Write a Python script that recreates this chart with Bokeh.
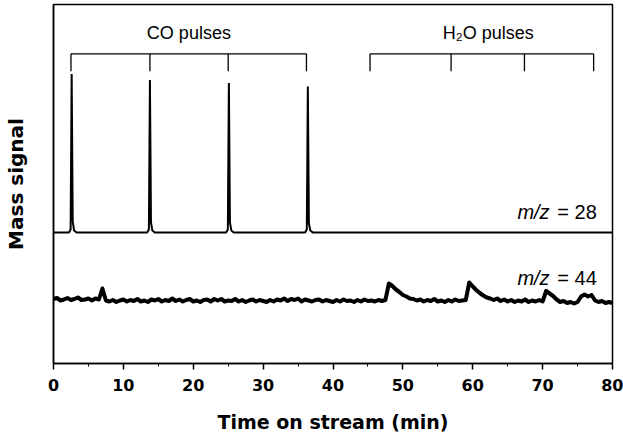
import numpy as np
from bokeh.plotting import figure
from bokeh.models import Range1d, Label, ColumnDataSource, FixedTicker
from bokeh.embed import file_html
from bokeh.resources import INLINE

# ---------------- data ----------------
x_ticks = [0, 10, 20, 30, 40, 50, 60, 70, 80]
x_minor_ticks = [5, 15, 25, 35, 45, 55, 65, 75]

# m/z = 28 trace (time in min, signal in arbitrary units)
mz28_time = [0, 2.2, 2.45, 2.6, 2.75, 2.95, 3.3,
             13.4, 13.65, 13.8, 13.95, 14.15, 14.5,
             24.7, 24.95, 25.1, 25.25, 25.45, 25.8,
             36.0, 36.25, 36.4, 36.55, 36.75, 37.1, 80]
mz28_signal = [131, 131, 134, 289.5, 142, 133, 131,
               131, 134, 283.5, 141, 133, 131,
               131, 134, 280.5, 141, 133, 131,
               131, 134, 277, 140, 133, 131, 131]

# m/z = 44 trace, sampled every 0.5 min from 0 to 80
mz44_time = np.arange(0, 80.5, 0.5)
mz44_signal = [
    64.5, 65.5, 63, 64, 65.5, 63.5, 64.5, 66, 63.5, 64, 65, 63, 65, 64,
    75,
    63, 62, 63.5, 61.5, 63, 64, 62, 63.5, 62.5, 64.5, 62, 63, 61.5, 64, 63, 64.5,
    62, 63.5, 62.5, 65, 62.5, 64, 62, 63.5, 64.5, 62, 63, 61.5, 63.5, 64, 62, 64.5,
    63, 64.5, 62, 63, 62.5, 64.5, 62, 63.5, 61.5, 63, 64, 62, 63.5, 62.5, 61.5, 63.5,
    62, 64, 63, 65, 62.5, 64.5, 63.5, 65, 62, 64, 63, 62, 63.5, 64, 62, 63.5,
    62.5, 61.5, 63.5, 62, 64, 62.5, 63, 61.5, 63.5, 62, 64, 62.5, 63, 62, 63.5, 62.5,
    63.5,
    80, 77.5, 74, 71.5, 68.5, 67, 65, 64.5, 63, 64, 62, 63.5, 62.5, 64.5, 62, 63,
    61.5, 63.5, 62, 64, 62.5, 63,
    63.5, 81,
    77, 73.5, 70.5, 68, 66, 65, 63.5, 65, 62.5, 64, 62, 63.5, 61.5, 63, 62, 64,
    61.5, 63, 62, 63.5, 62,
    72.5, 70, 67.5, 64, 61.5, 62.5, 60.5, 61.5, 60, 61.5,
    67, 69, 67, 68.5, 63, 61.5, 62.5, 60.5, 61.5, 60.5,
]

co_pulse_times = [2.5, 13.8, 25.0, 36.2]
h2o_pulse_times = [45.3, 56.9, 67.4, 77.3]

# ---------------- figure ----------------
p = figure(width=623, height=439, output_backend="svg", toolbar_location=None,
           x_range=Range1d(0, 80), y_range=Range1d(0, 359),
           min_border_left=52, min_border_right=11, min_border_top=4,
           min_border_bottom=76)
p.title.visible = False
p.xgrid.visible = False
p.ygrid.visible = False
p.background_fill_color = "white"
p.border_fill_color = "white"
p.outline_line_color = "black"
p.outline_line_width = 1.5

# x axis
p.xaxis.ticker = FixedTicker(ticks=x_ticks, minor_ticks=x_minor_ticks)
p.xaxis.axis_line_width = 1.5
p.xaxis.major_tick_in = 0
p.xaxis.major_tick_out = 6
p.xaxis.minor_tick_in = 0
p.xaxis.minor_tick_out = 3
p.xaxis.major_tick_line_width = 1.5
p.xaxis.major_label_standoff = 9
p.xaxis.major_label_text_font = "DejaVu Sans"
p.xaxis.major_label_text_font_style = "bold"
p.xaxis.major_label_text_font_size = "16px"
p.xaxis.major_label_text_color = "black"
p.xaxis.axis_label = "Time on stream (min)"
p.xaxis.axis_label_text_font = "DejaVu Sans"
p.xaxis.axis_label_text_font_style = "bold"
p.xaxis.axis_label_text_font_size = "19px"
p.xaxis.axis_label_text_color = "black"
p.xaxis.axis_label_standoff = 17

# y axis (no ticks)
p.yaxis.ticker = FixedTicker(ticks=[])
p.yaxis.axis_line_width = 1.5
p.yaxis.major_tick_line_color = None
p.yaxis.minor_tick_line_color = None
p.yaxis.major_label_text_font_size = "0px"
p.yaxis.major_label_standoff = 0
p.yaxis.axis_label = "Mass signal"
p.yaxis.axis_label_text_font = "DejaVu Sans"
p.yaxis.axis_label_text_font_style = "bold"
p.yaxis.axis_label_text_font_size = "20px"
p.yaxis.axis_label_text_color = "black"
p.yaxis.axis_label_standoff = 26

# traces
src28 = ColumnDataSource(dict(t=mz28_time, s=mz28_signal))
src44 = ColumnDataSource(dict(t=mz44_time, s=mz44_signal))
p.line("t", "s", source=src28, line_color="black", line_width=2)
p.line("t", "s", source=src44, line_color="black", line_width=4,
       line_join="round")

# pulse brackets
bracket_top = 309.7
bracket_bottom = 292.3
for times in (co_pulse_times, h2o_pulse_times):
    p.segment(x0=[times[0]], y0=[bracket_top], x1=[times[-1]], y1=[bracket_top],
              line_color="black", line_width=1.3)
    p.segment(x0=times, y0=[bracket_top] * len(times), x1=times,
              y1=[bracket_bottom] * len(times), line_color="black", line_width=1.3)

# annotations
p.add_layout(Label(x=float(np.mean(co_pulse_times)), y=331, text="CO pulses",
                   text_align="center", text_baseline="middle",
                   text_font="Liberation Sans", text_font_size="18px", text_color="black"))
p.add_layout(Label(x=float(np.mean(h2o_pulse_times)) + 0.5, y=331, text="H₂O pulses",
                   text_align="center", text_baseline="middle",
                   text_font="Liberation Sans", text_font_size="18px", text_color="black"))

for yv, txt in ((151.3, "= 28"), (86.0, "= 44")):
    p.add_layout(Label(x=71.0, y=yv, text="m/z", text_align="right",
                       text_baseline="middle", text_font="Liberation Sans",
                       text_font_style="italic", text_font_size="20px",
                       text_color="black"))
    p.add_layout(Label(x=72.1, y=yv, text=txt, text_align="left",
                       text_baseline="middle", text_font="Liberation Sans",
                       text_font_size="20px", text_color="black"))

open("out.html", "w").write(file_html(p, INLINE))
